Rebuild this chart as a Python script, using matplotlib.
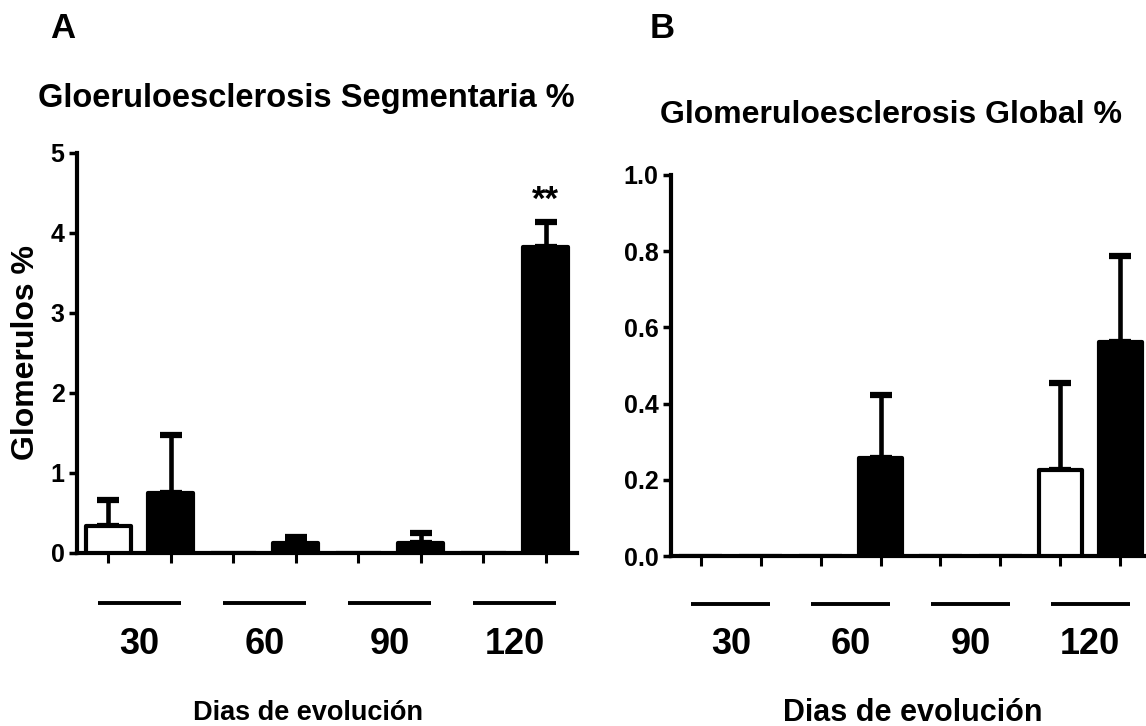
import matplotlib
matplotlib.use('Agg')
import matplotlib.pyplot as plt
import matplotlib.transforms as mtransforms
import numpy as np

plt.rcParams['font.family'] = 'Liberation Sans'
plt.rcParams['font.weight'] = 'bold'

dias = ['30', '60', '90', '120']

# segmentaria: control (white) and treated (black), mean and upper SEM
seg_ctrl = [0.34, 0.0, 0.0, 0.0]
seg_ctrl_err = [0.32, 0.0, 0.0, 0.0]
seg_trat = [0.75, 0.12, 0.13, 3.83]
seg_trat_err = [0.73, 0.08, 0.12, 0.31]

# global
glob_ctrl = [0.0, 0.0, 0.0, 0.227]
glob_ctrl_err = [0.0, 0.0, 0.0, 0.226]
glob_trat = [0.0, 0.256, 0.0, 0.562]
glob_trat_err = [0.0, 0.166, 0.0, 0.225]

W, H = 1146, 726
fig = plt.figure(figsize=(W / 100, H / 100), dpi=100)
axA = fig.add_axes([77 / W, (H - 553) / H, 500 / W, 400 / H])
axB = fig.add_axes([671 / W, (H - 556) / H, 479 / W, 381 / H])


def draw_panel(ax, ctrl, ctrl_err, trat, trat_err, ymax, yticks, fmt, line_y, lab_y):
    xc = np.arange(len(dias)) * 2
    xt = xc + 1
    ax.bar(xc, ctrl, width=0.72, color='white', edgecolor='black', linewidth=3,
           joinstyle='round', zorder=3)
    ax.bar(xt, trat, width=0.72, color='black', edgecolor='black', linewidth=3,
           joinstyle='round', zorder=3)
    for x, v, e in list(zip(xc, ctrl, ctrl_err)) + list(zip(xt, trat, trat_err)):
        if e > 0:
            ax.errorbar(x, v, yerr=[[0], [e]], fmt='none', ecolor='black',
                        elinewidth=3.3, capsize=8, capthick=4.5, zorder=2)
    ax.set_xlim(-0.5, 7.5)
    ax.set_ylim(0, ymax)
    ax.set_xticks(np.arange(8))
    ax.set_xticklabels([])
    ax.set_yticks(yticks)
    ax.set_yticklabels([fmt.format(t) for t in yticks], fontsize=18, fontweight='bold')
    ax.tick_params(axis='x', direction='out', length=7, width=2.2)
    ax.tick_params(axis='y', direction='out', length=6, width=2.5, pad=3)
    for s in ['top', 'right']:
        ax.spines[s].set_visible(False)
    for s in ['left', 'bottom']:
        ax.spines[s].set_linewidth(3)
    trans = mtransforms.blended_transform_factory(ax.transData, ax.transAxes)
    for g, d in enumerate(dias):
        c = 2 * g + 0.5
        ax.plot([c - 0.66, c + 0.66], [line_y, line_y], color='black', lw=2.8,
                transform=trans, clip_on=False, solid_capstyle='butt')
        ax.text(c, lab_y, d, transform=trans, ha='center', va='center',
                fontsize=26, fontweight='bold')


draw_panel(axA, seg_ctrl, seg_ctrl_err, seg_trat, seg_trat_err,
           5, [0, 1, 2, 3, 4, 5], '{:d}', -0.125, -0.23)
draw_panel(axB, glob_ctrl, glob_ctrl_err, glob_trat, glob_trat_err,
           1.0, [0.0, 0.2, 0.4, 0.6, 0.8, 1.0], '{:.1f}', -0.127, -0.231)

# significance mark over the 120 day treated bar
axA.text(7, seg_trat[3] + seg_trat_err[3] + 0.27, '**', ha='center', va='center',
         fontsize=25, fontweight='bold')

fig.text(50 / W, 1 - 38 / H, 'A', fontsize=25, fontweight='bold', va='baseline')
fig.text(650 / W, 1 - 38 / H, 'B', fontsize=25, fontweight='bold', va='baseline')
fig.text(38 / W, 1 - 107 / H, 'Gloeruloesclerosis Segmentaria %', fontsize=23.5,
         fontweight='bold', va='baseline')
fig.text(660 / W, 1 - 123 / H, 'Glomeruloesclerosis Global %', fontsize=23,
         fontweight='bold', va='baseline')
fig.text(26 / W, 1 - 353 / H, 'Glomerulos %', rotation=90, ha='center', va='center',
         fontsize=23, fontweight='bold')
fig.text(308 / W, 1 - 720 / H, 'Dias de evolución', ha='center', va='baseline',
         fontsize=19.5, fontweight='bold')
fig.text(913 / W, 1 - 721 / H, 'Dias de evolución', ha='center', va='baseline',
         fontsize=22, fontweight='bold')

fig.savefig('out.png', dpi=100)
